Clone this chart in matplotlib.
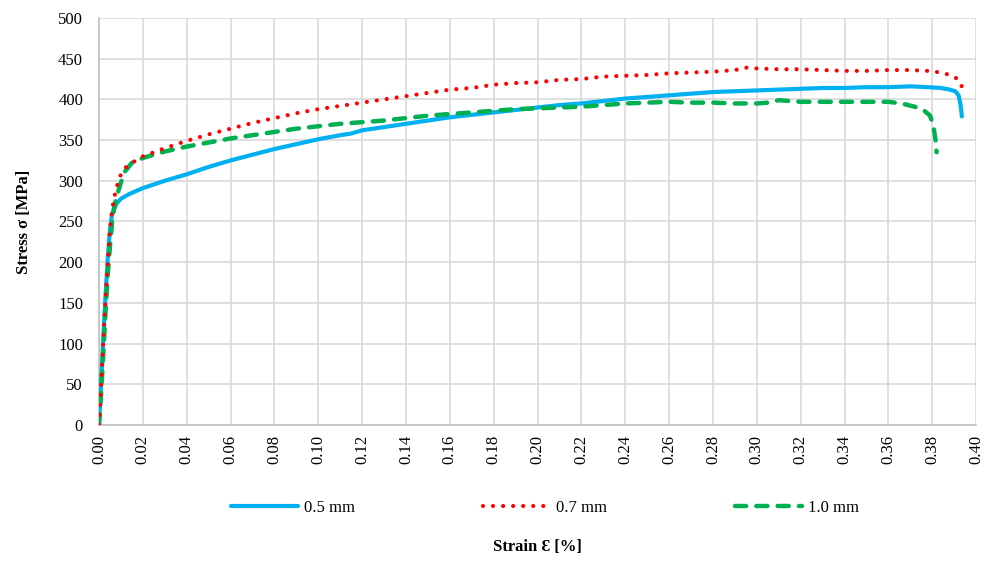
import matplotlib.pyplot as plt
from matplotlib.ticker import MultipleLocator, FormatStrFormatter

# Strain [%] and stress [MPa]
strain_05 = [0.0, 0.001, 0.002, 0.003, 0.004, 0.005, 0.006, 0.008, 0.010, 0.014,
             0.020, 0.030, 0.040, 0.050, 0.060, 0.070, 0.080, 0.090, 0.100, 0.110,
             0.115, 0.120, 0.125, 0.130, 0.140, 0.150, 0.160, 0.170, 0.180, 0.190,
             0.200, 0.210, 0.220, 0.230, 0.240, 0.250, 0.260, 0.270, 0.280, 0.290,
             0.300, 0.310, 0.320, 0.330, 0.340, 0.350, 0.360, 0.370, 0.378, 0.384,
             0.388, 0.3905, 0.392, 0.3928, 0.3932, 0.3935]
stress_05 = [0, 55, 110, 160, 205, 240, 260, 272, 278, 284,
             291, 300, 308, 317, 325, 332, 339, 345, 351, 356,
             358, 362, 364, 366, 370, 374, 378, 381, 384, 387,
             390, 393, 395, 398, 401, 403, 405, 407, 409, 410,
             411, 412, 413, 414, 414, 415, 415, 416, 415, 414,
             412, 410, 405, 395, 387, 379]

strain_07 = [0.0, 0.001, 0.002, 0.003, 0.004, 0.005, 0.006, 0.007, 0.008, 0.010,
             0.012, 0.015, 0.020, 0.030, 0.040, 0.050, 0.060, 0.070, 0.080, 0.090,
             0.100, 0.110, 0.120, 0.130, 0.140, 0.150, 0.160, 0.170, 0.180, 0.190,
             0.200, 0.210, 0.220, 0.230, 0.240, 0.250, 0.260, 0.270, 0.280, 0.290,
             0.295, 0.300, 0.310, 0.320, 0.330, 0.340, 0.350, 0.360, 0.370, 0.378,
             0.384, 0.388, 0.391, 0.393, 0.394]
stress_07 = [0, 50, 105, 155, 200, 240, 265, 280, 292, 308,
             316, 322, 330, 340, 349, 357, 364, 371, 377, 383,
             388, 392, 396, 400, 404, 408, 412, 414, 418, 420,
             421, 424, 425, 428, 429, 430, 432, 433, 434, 436,
             439, 438, 437, 437, 436, 435, 435, 436, 436, 435,
             433, 430, 426, 420, 411]

strain_10 = [0.0, 0.001, 0.002, 0.003, 0.004, 0.005, 0.006, 0.007, 0.008, 0.010,
             0.012, 0.015, 0.020, 0.030, 0.040, 0.050, 0.060, 0.070, 0.080, 0.090,
             0.100, 0.110, 0.120, 0.130, 0.140, 0.150, 0.160, 0.170, 0.180, 0.190,
             0.200, 0.210, 0.220, 0.230, 0.240, 0.250, 0.260, 0.270, 0.280, 0.290,
             0.300, 0.305, 0.310, 0.320, 0.330, 0.340, 0.350, 0.360, 0.366, 0.372,
             0.376, 0.379, 0.3805, 0.3815, 0.382]
stress_10 = [0, 40, 90, 140, 185, 220, 250, 268, 280, 298,
             312, 322, 328, 336, 342, 347, 352, 356, 360, 364,
             367, 370, 372, 374, 377, 380, 382, 384, 386, 388,
             389, 390, 391, 393, 395, 396, 397, 396, 396, 395,
             395, 396, 399, 397, 397, 397, 397, 397, 395, 391,
             387, 380, 368, 350, 335]

labels = ["0.5 mm", "0.7 mm", "1.0 mm"]

plt.rcParams['font.family'] = ['Liberation Serif', 'DejaVu Serif']

fig = plt.figure(figsize=(9.95, 5.69), dpi=100)
ax = fig.add_axes([0.0995, 0.2531, 0.8815, 0.7153])

ax.plot(strain_05, stress_05, color="#00B0F0", lw=3.0, solid_capstyle="round",
        label=labels[0], zorder=3)
ax.plot(strain_07, stress_07, color="#FF0000", lw=3.0, linestyle=(0, (0.01, 2.4)),
        dash_capstyle="round", label=labels[1], zorder=5)
ax.plot(strain_10, stress_10, color="#00B050", lw=3.2, linestyle=(0, (2.5, 2.3)),
        dash_capstyle="round", label=labels[2], zorder=4)

ax.set_xlim(0, 0.40)
ax.set_ylim(0, 500)
ax.xaxis.set_major_locator(MultipleLocator(0.02))
ax.yaxis.set_major_locator(MultipleLocator(50))
ax.xaxis.set_major_formatter(FormatStrFormatter("%.2f"))
ax.grid(True, color="#d9d9d9", lw=1.2)
ax.set_axisbelow(True)
for s in ["top", "right"]:
    ax.spines[s].set_visible(False)
for s in ["left", "bottom"]:
    ax.spines[s].set_color("#bfbfbf")
    ax.spines[s].set_linewidth(1.2)
ax.tick_params(length=0, labelsize=12)
ax.tick_params(axis="y", pad=11.5)
ax.tick_params(axis="x", pad=7)
plt.setp(ax.get_xticklabels(), rotation=90)

ax.set_ylabel("Stress σ [MPa]", fontsize=12, fontweight="bold")
ax.yaxis.set_label_coords(-0.076, 0.5)
fig.text(0.540, 0.025, "Strain Ɛ [%]", fontsize=12, fontweight="bold",
         ha="center", va="bottom")

fig.legend(loc="center", bbox_to_anchor=(0.548, 0.107), ncol=3, frameon=False,
           fontsize=12, handlelength=4.0, columnspacing=7.7, handletextpad=0.36)

fig.savefig("out.png", dpi=100)
